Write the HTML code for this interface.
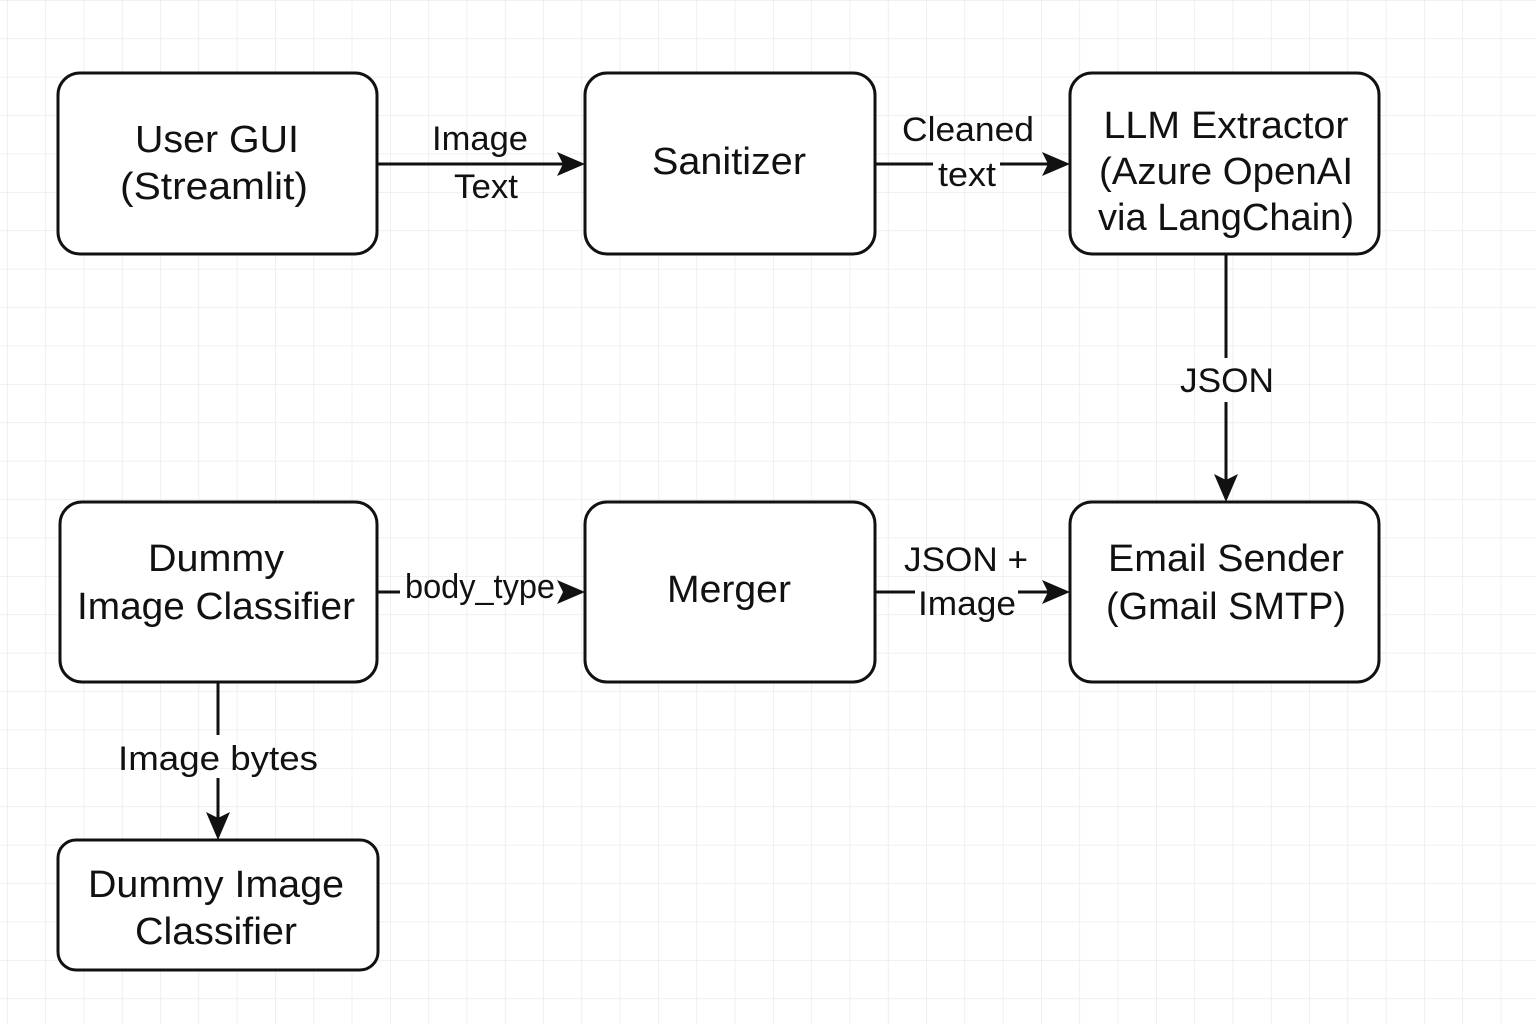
<!DOCTYPE html>
<html><head><meta charset="utf-8"><style>
html,body{margin:0;padding:0;background:#fff;}
svg{display:block;}
text{font-family:"Liberation Sans",Arial,sans-serif;fill:#111;}
</style></head><body>
<svg width="1536" height="1024" viewBox="0 0 1536 1024" xmlns="http://www.w3.org/2000/svg">
<defs>
<pattern id="g" x="7" y="0" width="38.3" height="38.4" patternUnits="userSpaceOnUse">
<path d="M0 0V38.4M0 0H38.3" stroke="#e6e6e6" stroke-width="1.2" fill="none"/>
</pattern>
</defs>
<rect width="1536" height="1024" fill="#fff"/>
<rect width="1536" height="1024" fill="url(#g)"/>
<g fill="#fff" stroke="#111" stroke-width="3">
<rect x="58" y="73" width="319" height="181" rx="22"/>
<rect x="585" y="73" width="290" height="181" rx="22"/>
<rect x="1070" y="73" width="309" height="181" rx="22"/>
<rect x="60" y="502" width="317" height="180" rx="22"/>
<rect x="585" y="502" width="290" height="180" rx="22"/>
<rect x="1070" y="502" width="309" height="180" rx="22"/>
<rect x="58" y="840" width="320" height="130" rx="18"/>
</g>
<g stroke="#111" stroke-width="3" fill="none">
<path d="M377 164H565"/>
<path d="M875 164H933"/>
<path d="M1000 164H1050"/>
<path d="M1226 254V358"/>
<path d="M1226 402V480"/>
<path d="M377 592H400"/>
<path d="M875 592H915"/>
<path d="M1018 592H1050"/>
<path d="M218 682V735"/>
<path d="M218 778V820"/>
</g>
<g fill="#111">
<path d="M585 164L557 152L563 164L557 176Z"/>
<path d="M1070 164L1042 152L1048 164L1042 176Z"/>
<path d="M1226 502L1214 474L1226 480L1238 474Z"/>
<path d="M585 592L557 580L563 592L557 604Z"/>
<path d="M1070 592L1042 580L1048 592L1042 604Z"/>
<path d="M218 840L206 812L218 818L230 812Z"/>
</g>
<g font-size="38" text-anchor="middle">
<text x="217" y="152" textLength="164" lengthAdjust="spacingAndGlyphs">User GUI</text>
<text x="214" y="199" textLength="188" lengthAdjust="spacingAndGlyphs">(Streamlit)</text>
<text x="729" y="174" textLength="154" lengthAdjust="spacingAndGlyphs">Sanitizer</text>
<text x="1226" y="138" textLength="245" lengthAdjust="spacingAndGlyphs">LLM Extractor</text>
<text x="1226" y="184" textLength="254" lengthAdjust="spacingAndGlyphs">(Azure OpenAI</text>
<text x="1226" y="230" textLength="256" lengthAdjust="spacingAndGlyphs">via LangChain)</text>
<text x="216" y="571" textLength="136" lengthAdjust="spacingAndGlyphs">Dummy</text>
<text x="216" y="619" textLength="278" lengthAdjust="spacingAndGlyphs">Image Classifier</text>
<text x="729" y="602" textLength="124" lengthAdjust="spacingAndGlyphs">Merger</text>
<text x="1226" y="571" textLength="236" lengthAdjust="spacingAndGlyphs">Email Sender</text>
<text x="1226" y="619" textLength="240" lengthAdjust="spacingAndGlyphs">(Gmail SMTP)</text>
<text x="216" y="897" textLength="256" lengthAdjust="spacingAndGlyphs">Dummy Image</text>
<text x="216" y="944" textLength="162" lengthAdjust="spacingAndGlyphs">Classifier</text>
</g>
<g font-size="34" text-anchor="middle">
<text x="480" y="150" textLength="96" lengthAdjust="spacingAndGlyphs">Image</text>
<text x="486" y="198" textLength="64" lengthAdjust="spacingAndGlyphs">Text</text>
<text x="968" y="141" textLength="132" lengthAdjust="spacingAndGlyphs">Cleaned</text>
<text x="967" y="186" textLength="58" lengthAdjust="spacingAndGlyphs">text</text>
<text x="1227" y="392" textLength="94" lengthAdjust="spacingAndGlyphs">JSON</text>
<text x="480" y="598" textLength="150" lengthAdjust="spacingAndGlyphs">body_type</text>
<text x="966" y="571" textLength="124" lengthAdjust="spacingAndGlyphs">JSON +</text>
<text x="967" y="615" textLength="98" lengthAdjust="spacingAndGlyphs">Image</text>
<text x="218" y="770" textLength="200" lengthAdjust="spacingAndGlyphs">Image bytes</text>
</g>
</svg>
</body></html>
